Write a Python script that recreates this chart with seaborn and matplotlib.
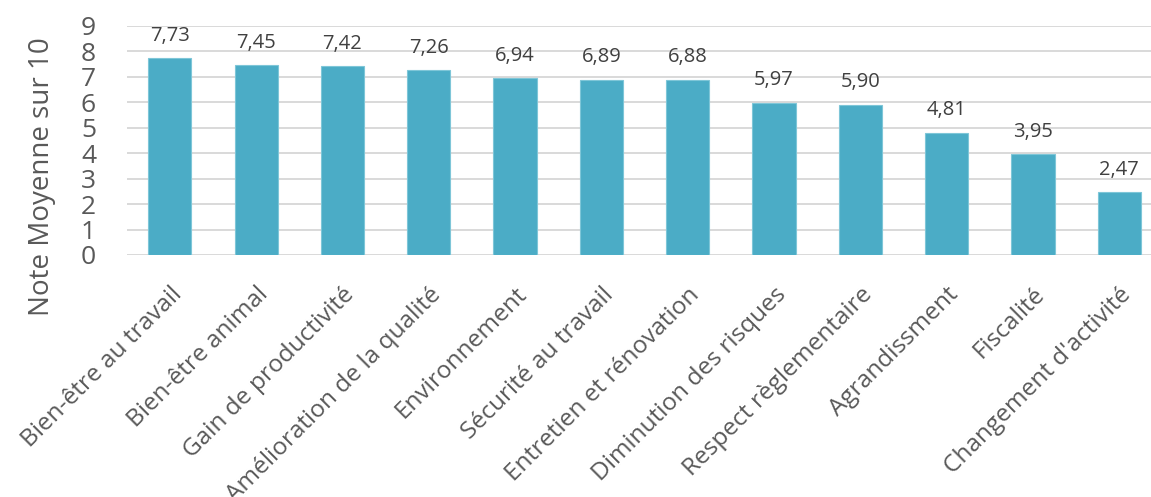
import matplotlib
matplotlib.use("Agg")
import matplotlib.pyplot as plt
import seaborn as sns
import pandas as pd

categories = [
    "Bien-être au travail", "Bien-être animal", "Gain de productivité",
    "Amélioration de la qualité", "Environnement", "Sécurité au travail",
    "Entretien et rénovation", "Diminution des risques",
    "Respect règlementaire", "Agrandissment", "Fiscalité",
    "Changement d'activité",
]
scores = [7.73, 7.45, 7.42, 7.26, 6.94, 6.89, 6.88, 5.97, 5.90, 4.81, 3.95, 2.47]
y_ticks = list(range(0, 10))

df = pd.DataFrame({"motif": categories, "note": scores})

sns.set_theme(style="white")
plt.rcParams["font.family"] = ["Open Sans", "DejaVu Sans"]

fig = plt.figure(figsize=(11.51, 4.97), dpi=100)
ax = fig.add_axes([0.110, 0.487, 0.900, 0.461])

sns.barplot(data=df, x="motif", y="note", color="#4BACC6", saturation=1,
            width=0.5, edgecolor="#7EC6D8", linewidth=0.8, ax=ax, zorder=3)

ax.set_ylim(0, 9)
ax.set_xlim(-0.5, len(categories) - 0.5)
ax.set_yticks(y_ticks)
ax.set_yticklabels([str(t) for t in y_ticks], fontsize=19, color="#595959")
ax.yaxis.grid(True, color="#D9D9D9", linewidth=1.4, zorder=0)
ax.set_axisbelow(True)
for s in ax.spines.values():
    s.set_visible(False)
ax.tick_params(axis="y", length=0, pad=22)
ax.tick_params(axis="x", length=0, pad=20)

ax.set_xticks(range(len(categories)))
ax.set_xticklabels(categories, rotation=45, ha="right", rotation_mode="anchor",
                   fontsize=17.6, color="#595959")
ax.set_xlabel("")
ax.set_ylabel("Note Moyenne sur 10", fontsize=20, color="#595959")
ax.yaxis.set_label_coords(-0.068, 0.34)

for i, v in enumerate(scores):
    ax.annotate(f"{v:.2f}".replace(".", ","), (i, v), xytext=(0, 9),
                textcoords="offset points", ha="center", va="bottom",
                fontsize=14.5, color="#404040")

fig.savefig("out.png", dpi=100)
